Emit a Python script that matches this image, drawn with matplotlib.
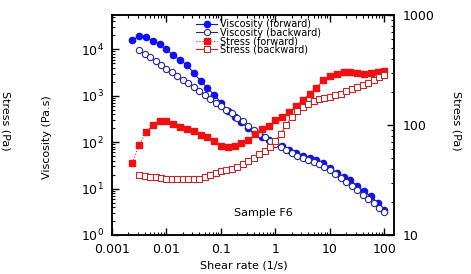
import matplotlib
matplotlib.use("Agg")
import matplotlib.pyplot as plt
from matplotlib.ticker import FixedLocator, LogLocator, NullFormatter, FixedFormatter

# Forward sweep (shear rate, 1/s)
rate_fwd = [0.00237, 0.00316, 0.00422, 0.00562, 0.0075, 0.01, 0.0133, 0.0178, 0.0237, 0.0316,
            0.0422, 0.0562, 0.075, 0.1, 0.133, 0.178, 0.237, 0.316, 0.422, 0.562,
            0.75, 1.0, 1.33, 1.78, 2.37, 3.16, 4.22, 5.62, 7.5, 10.0,
            13.3, 17.8, 23.7, 31.6, 42.2, 56.2, 75.0, 100.0]
visc_fwd = [16200, 19000, 18200, 15500, 12900, 10000, 7400, 5900, 4600, 3100,
            2100, 1480, 1050, 710, 480, 355, 270, 200, 155, 129,
            110, 95, 81, 68, 59, 50, 46, 42, 35, 28,
            22, 18, 15, 11.5, 8.7, 6.8, 5.0, 3.5]
stress_fwd = [45, 66, 86, 100, 109, 109, 102, 96, 92, 88,
              81, 78, 72, 64, 63, 64, 69, 73, 83, 92,
              98, 111, 118, 131, 149, 169, 191, 217, 256, 279,
              291, 303, 303, 297, 291, 297, 303, 310]

# Backward sweep
rate_bwd = [0.00316, 0.00398, 0.00501, 0.00631, 0.00794, 0.01, 0.0126, 0.0158, 0.02, 0.0251,
            0.0316, 0.0398, 0.0501, 0.0631, 0.0794, 0.1, 0.126, 0.158, 0.2, 0.251,
            0.316, 0.398, 0.501, 0.631, 0.794, 1.0, 1.26, 1.58, 2.0, 2.51,
            3.16, 3.98, 5.01, 6.31, 7.94, 10.0, 12.6, 15.8, 20.0, 25.1,
            31.6, 39.8, 50.1, 63.1, 79.4, 100.0]
visc_bwd = [9500, 7800, 6800, 5500, 4600, 3750, 3250, 2700, 2200, 1900,
            1550, 1280, 1050, 870, 710, 615, 500, 415, 340, 280,
            220, 180, 148, 128, 105, 91, 78, 68, 58, 50,
            46, 41, 37, 34, 29.5, 25.3, 21, 17, 14, 11.6,
            9.1, 7.4, 5.9, 4.8, 3.9, 3.2]
stress_bwd = [35.1, 34.3, 33.7, 33.7, 33.0, 32.3, 32.3, 32.3, 32.3, 32.3,
              32.3, 32.3, 33.7, 35.1, 36.6, 38.2, 39.0, 39.8, 41.5, 44.2,
              47.1, 50.1, 54.5, 58.0, 63.1, 71.6, 82.8, 100, 118, 134,
              146, 155, 165, 172, 176, 180, 187, 191, 204, 212,
              221, 231, 241, 256, 273, 285]

xticks = [0.001, 0.01, 0.1, 1, 10, 100]
xticklabels = ["0.001", "0.01", "0.1", "1", "10", "100"]
yticks_left = [1, 10, 100, 1000, 10000]
yticklabels_left = [r"$10^0$", r"$10^1$", r"$10^2$", r"$10^3$", r"$10^4$"]
yticks_right = [10, 100, 1000]
yticklabels_right = ["10", "100", "1000"]

W, H = 471, 274
fig = plt.figure(figsize=(W / 100, H / 100), dpi=100)
ax = fig.add_axes([112 / W, 1 - 235 / H, (394 - 112) / W, (235 - 15) / H])
ax2 = ax.twinx()

blue = "#1010f0"
navy = "#28289a"
red = "#f01010"
dred = "#c02828"
ms = 4.5

l1, = ax.plot(rate_fwd, visc_fwd, color=blue, marker="o", ms=ms, lw=0.8,
              mfc=blue, mec=blue, label="Viscosity (forward)")
l2, = ax.plot(rate_bwd, visc_bwd, color=navy, marker="o", ms=ms, lw=0.8,
              mfc="white", mec=navy, mew=0.8, label="Viscosity (backward)")
l3, = ax2.plot(rate_fwd, stress_fwd, color=red, marker="s", ms=ms, lw=0.8, ls=":",
               mfc=red, mec=red, label="Stress (forward)")
l4, = ax2.plot(rate_bwd, stress_bwd, color=dred, marker="s", ms=ms, lw=0.8,
               mfc="white", mec=dred, mew=0.8, label="Stress (backward)")

ax.set_xscale("log")
ax.set_yscale("log")
ax2.set_yscale("log")
ax.set_xlim(0.001, 150)
ax.set_ylim(1, 5.5e4)
ax2.set_ylim(10, 1000)

fs = 9
ax.xaxis.set_major_locator(FixedLocator(xticks))
ax.xaxis.set_major_formatter(FixedFormatter(xticklabels))
ax.xaxis.set_minor_locator(LogLocator(base=10, subs=range(2, 10), numticks=20))
ax.xaxis.set_minor_formatter(NullFormatter())
ax.yaxis.set_major_locator(FixedLocator(yticks_left))
ax.yaxis.set_major_formatter(FixedFormatter(yticklabels_left))
ax.yaxis.set_minor_locator(LogLocator(base=10, subs=range(2, 10), numticks=20))
ax.yaxis.set_minor_formatter(NullFormatter())
ax2.yaxis.set_major_locator(FixedLocator(yticks_right))
ax2.yaxis.set_major_formatter(FixedFormatter(yticklabels_right))
ax2.yaxis.set_minor_locator(LogLocator(base=10, subs=range(2, 10), numticks=20))
ax2.yaxis.set_minor_formatter(NullFormatter())

ax.tick_params(axis="x", which="both", direction="in", top=True, labelsize=fs, pad=6)
ax.tick_params(axis="y", which="both", direction="in", right=False, labelsize=fs, pad=6)
ax2.tick_params(axis="y", which="both", direction="in", labelsize=fs, pad=6)
for a in (ax, ax2):
    a.tick_params(which="major", length=5, width=1)
    a.tick_params(which="minor", length=2.5, width=0.8)
    for s in a.spines.values():
        s.set_linewidth(1.1)

ax.set_ylabel("Viscosity (Pa.s)", fontsize=8)
ax.yaxis.set_label_coords(52 / W, 0.5, transform=fig.transFigure)
fig.text(244 / W, 1 - 266 / H, "Shear rate (1/s)", fontsize=8, ha="center", va="center")
fig.text(457 / W, 1 - 121 / H, "Stress (Pa)", fontsize=8, rotation=270, ha="center", va="center")
fig.text(5 / W, 1 - 121 / H, "Stress (Pa)", fontsize=8, rotation=270, ha="center", va="center")
fig.text(263 / W, 1 - 213 / H, "Sample F6", fontsize=8, ha="center", va="center")

leg = ax2.legend(handles=[l1, l2, l3, l4], loc="upper left",
                 bbox_to_anchor=(196 / W, 1 - 19 / H), bbox_transform=fig.transFigure,
                 frameon=False, fontsize=7, handlelength=2.2, handletextpad=0.3,
                 labelspacing=-0.15, borderpad=0, borderaxespad=0)

fig.savefig("out.png", dpi=100)
